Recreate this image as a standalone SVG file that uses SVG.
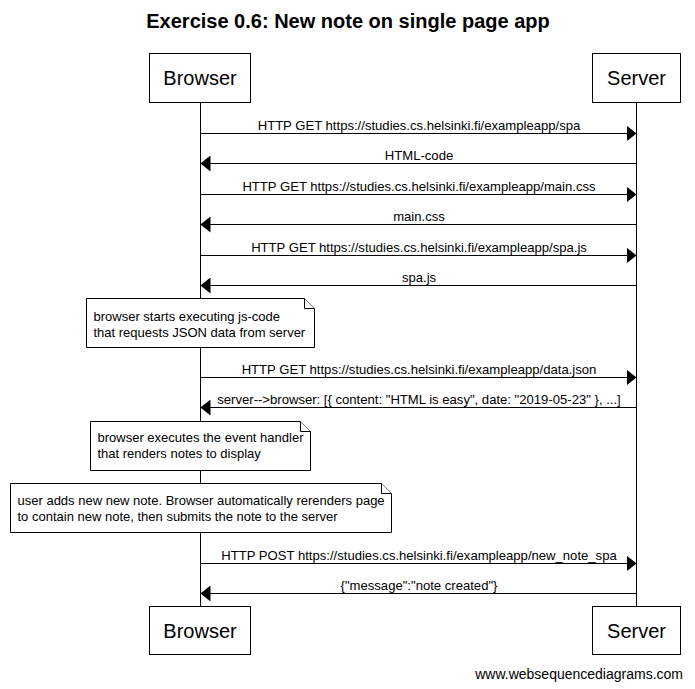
<svg xmlns="http://www.w3.org/2000/svg" width="695" height="689" viewBox="0 0 695 689">
<style>
text{font-family:"Liberation Sans",Arial,sans-serif;fill:#000}
.title{font-size:20px;font-weight:bold;text-anchor:middle}
.actor{fill:#fff;stroke:#000;stroke-width:1}
.aname{font-size:20px;text-anchor:middle}
.life{stroke:#000;stroke-width:1;fill:none}
.msg{stroke:#000;stroke-width:1;fill:none;marker-end:url(#ah)}
.lbl{font-size:13.1px;text-anchor:middle}
.note{fill:#fff;stroke:#000;stroke-width:1}
.ntext{font-size:13px}
.foot{font-size:14px;text-anchor:end}
</style>
<defs>
<marker id="ah" markerUnits="userSpaceOnUse" markerWidth="10" markerHeight="16" refX="10" refY="8" orient="auto">
<path d="M0,0 L10,8 L0,16 z" fill="#000"/>
</marker>
</defs>
<rect width="695" height="689" fill="#fff"/>
<text class="title" x="348" y="28">Exercise 0.6: New note on single page app</text>

<g id="lifelines">
<line class="life" x1="200.5" y1="102" x2="200.5" y2="606"/>
<line class="life" x1="636.5" y1="102" x2="636.5" y2="606"/>
</g>

<g id="browser-top">
<rect class="actor" x="149.5" y="53.5" width="101" height="49"/>
<text class="aname" x="200" y="85">Browser</text>
</g>
<g id="server-top">
<rect class="actor" x="592.5" y="53.5" width="88" height="49"/>
<text class="aname" x="636.5" y="85">Server</text>
</g>
<g id="browser-bottom">
<rect class="actor" x="149.5" y="606.5" width="101" height="48"/>
<text class="aname" x="200" y="638">Browser</text>
</g>
<g id="server-bottom">
<rect class="actor" x="592.5" y="606.5" width="88" height="48"/>
<text class="aname" x="636.5" y="638">Server</text>
</g>

<g id="connectors">
<line class="msg" x1="200.5" y1="133.5" x2="636.5" y2="133.5"/>
<text class="lbl" x="419" y="130">HTTP GET https://studies.cs.helsinki.fi/exampleapp/spa</text>
<line class="msg" x1="636.5" y1="163.5" x2="200.5" y2="163.5"/>
<text class="lbl" x="419" y="160">HTML-code</text>
<line class="msg" x1="200.5" y1="194.5" x2="636.5" y2="194.5"/>
<text class="lbl" x="419" y="191">HTTP GET https://studies.cs.helsinki.fi/exampleapp/main.css</text>
<line class="msg" x1="636.5" y1="224.5" x2="200.5" y2="224.5"/>
<text class="lbl" x="419" y="221">main.css</text>
<line class="msg" x1="200.5" y1="255.5" x2="636.5" y2="255.5"/>
<text class="lbl" x="419" y="252">HTTP GET https://studies.cs.helsinki.fi/exampleapp/spa.js</text>
<line class="msg" x1="636.5" y1="285.5" x2="200.5" y2="285.5"/>
<text class="lbl" x="419" y="282">spa.js</text>
<line class="msg" x1="200.5" y1="377.5" x2="636.5" y2="377.5"/>
<text class="lbl" x="419" y="374">HTTP GET https://studies.cs.helsinki.fi/exampleapp/data.json</text>
<line class="msg" x1="636.5" y1="407.5" x2="200.5" y2="407.5"/>
<text class="lbl" x="419" y="404">server--&gt;browser: [{ content: "HTML is easy", date: "2019-05-23" }, ...]</text>
<line class="msg" x1="200.5" y1="563.5" x2="636.5" y2="563.5"/>
<text class="lbl" x="419" y="560">HTTP POST https://studies.cs.helsinki.fi/exampleapp/new_note_spa</text>
<line class="msg" x1="636.5" y1="593.5" x2="200.5" y2="593.5"/>
<text class="lbl" x="419" y="590">{"message":"note created"}</text>
</g>

<g id="note1">
<path class="note" d="M86.5,298.5 H304.5 L314.5,308.5 V347.5 H86.5 Z"/>
<path class="note" d="M304.5,298.5 V308.5 H314.5"/>
<text class="ntext" x="93.5" y="321">browser starts executing js-code</text>
<text class="ntext" x="93.5" y="337">that requests JSON data from server</text>
</g>
<g id="note2">
<path class="note" d="M90.5,421.5 H300.5 L310.5,431.5 V470.5 H90.5 Z"/>
<path class="note" d="M300.5,421.5 V431.5 H310.5"/>
<text class="ntext" x="97.5" y="442">browser executes the event handler</text>
<text class="ntext" x="97.5" y="458">that renders notes to display</text>
</g>
<g id="note3">
<path class="note" d="M10.5,483.5 H381.5 L391.5,493.5 V532.5 H10.5 Z"/>
<path class="note" d="M381.5,483.5 V493.5 H391.5"/>
<text class="ntext" x="17.5" y="505">user adds new new note. Browser automatically rerenders page</text>
<text class="ntext" x="17.5" y="521">to contain new note, then submits the note to the server</text>
</g>

<text class="foot" x="683" y="679">www.websequencediagrams.com</text>
</svg>
